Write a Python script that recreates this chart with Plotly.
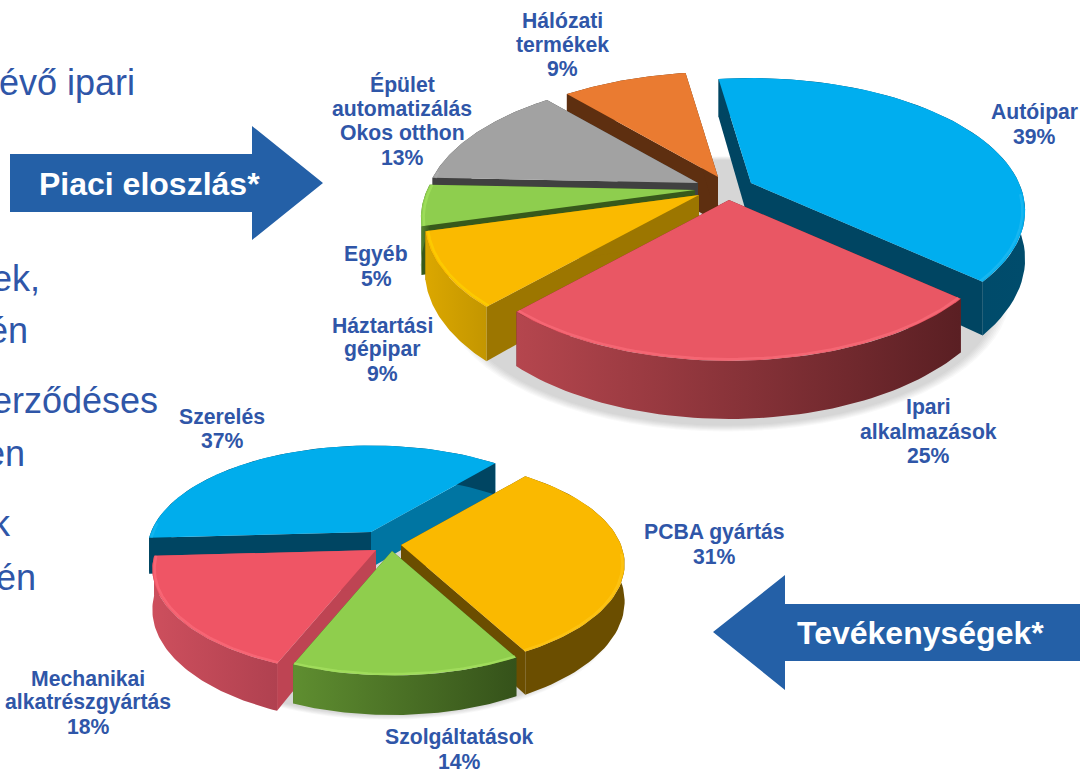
import math
import plotly.graph_objects as go

# ---- data ----
market_names = ["Autóipar", "Ipari alkalmazások", "Háztartási gépipar", "Egyéb",
                "Épület automatizálás Okos otthon", "Hálózati termékek"]
market_values = [39, 25, 9, 5, 13, 9]
activity_names = ["PCBA gyártás", "Szolgáltatások", "Mechanikai alkatrészgyártás", "Szerelés"]
activity_values = [31, 14, 18, 37]

# ---- appearance ----
BLUE_TXT = "#2F56A8"
ARROW = "#2460A7"
W, H = 1080, 770
top_geom = dict(R=268, Rv=127, k=0.21, depth=46, start=-8.4)
low_geom = dict(R=220, Rv=102, k=0.18, depth=31, start=40.0)
top_apex = [(751, 183), (729, 200), (699, 195), (695, 190), (698, 183), (718, 177)]
low_apex = [(401, 545), (392, 551), (376, 550), (371, 532)]
low_depth_scale = [1.17, 1.05, 1.27, 1.15]
top_order = [5, 4, 3, 0, 2, 1]
low_order = [3, 0, 2, 1]
top_face = ["#00AEEF", "#E95764", "#FABA00", "#8ECE4E", "#A2A2A2", "#EA7B31"]
top_cut = ["#004562", "#6A2328", "#9C7600", "#37591B", "#404040", "#5E2F10"]
top_side = [("#004562", "#004C6C"), ("#B5464E", "#5A1F23"), ("#DBA700", "#C39600"),
            ("#5A8A30", "#37591B"), ("#404040", "#404040"), ("#5E2F10", "#5E2F10")]
top_rim = ["#2BBDF2", "#FF7380", "#FFD800", "#A8E862", "#B0B0B0", "#F08A45"]
low_face = ["#FAB900", "#8FCE4D", "#EF5565", "#00ADEC"]
low_cut_a = ["#6B4E00", "#35521A", "#BE4453", "#004562"]
low_cut_b = ["#6B4E00", "#35521A", "#BE4453", "#0075A2"]
low_side = [("#6B4E00", "#6B4E00"), ("#5F8E30", "#35521A"), ("#CD4F5D", "#B04150"),
            ("#004562", "#004562")]
low_rim = ["#FFCB20", "#AEE868", "#FF7382", "#20BDF2"]

labels = [
    (["Hálózati", "termékek", "9%"], 562, 20),
    (["Épület", "automatizálás", "Okos otthon", "13%"], 402, 84),
    (["Autóipar", "39%"], 1034, 112),
    (["Egyéb", "5%"], 376, 254),
    (["Háztartási", "gépipar", "9%"], 382, 325),
    (["Ipari", "alkalmazások", "25%"], 928, 407),
    (["Szerelés", "37%"], 222, 416),
    (["PCBA gyártás", "31%"], 714, 532),
    (["Mechanikai", "alkatrészgyártás", "18%"], 88, 678),
    (["Szolgáltatások", "14%"], 459, 737),
]
side_text = [("évő ipari", -3, 82), ("ek,", -10, 278), ("én", -14, 330),
             ("erződéses", -10, 400), ("en", -17, 453), ("k", -10, 523), ("én", -6, 577)]


def point(g, ax, ay, deg, z=0.0, scale=1.0):
    t = math.radians(deg)
    X, Y = math.sin(t), math.cos(t)
    w = 1 + g["k"] * Y
    return ax + scale * g["R"] * X / w, ay - scale * g["Rv"] * Y / w + z * g["depth"] / w


def arc(g, ax, ay, a0, a1, z=0.0, scale=1.0, n=60):
    pts = [point(g, ax, ay, a0 + (a1 - a0) * i / n, z, scale) for i in range(n + 1)]
    return [p[0] for p in pts], [p[1] for p in pts]


fig = go.Figure()


def poly(xs, ys, color=None, gradient=None):
    kw = dict(fillcolor=color) if gradient is None else dict(
        fillgradient=dict(type="horizontal", colorscale=[[0, gradient[0]], [1, gradient[1]]]))
    fig.add_trace(go.Scatter(x=xs, y=ys, mode="lines", fill="toself", line=dict(width=0),
                             hoverinfo="skip", showlegend=False, **kw))


def shadow(g, ax, ay, dz):
    for i in range(7):
        xs, ys = arc(g, ax, ay + dz, 0, 360, 0, 1.0 + 0.006 * i, 90)
        poly(xs, ys, "rgba(60,60,60,0.03)")


def wedge(g, ax, ay, a0, a1, face, cut0, cut1, side, rim, dscale=1.0):
    z = dscale
    for ang, col in ((a0, cut0), (a1, cut1)):
        p = point(g, ax, ay, ang)
        q = point(g, ax, ay, ang, z)
        c1y = ay + z * g["depth"]
        poly([ax, p[0], q[0], ax, ax], [ay, p[1], q[1], c1y, ay], col)
    xt, yt = arc(g, ax, ay, a0, a1)
    xb, yb = arc(g, ax, ay, a0, a1, z)
    poly(xt + xb[::-1] + [xt[0]], yt + yb[::-1] + [yt[0]], gradient=side)
    poly([ax] + xt + [ax], [ay] + yt + [ay], face)
    lo = max(a0, 95)
    hi = min(a1, 275)
    if hi > lo:
        xr, yr = arc(g, ax, ay, lo, hi, 0, 0.99)
        fig.add_trace(go.Scatter(x=xr, y=yr, mode="lines", opacity=0.55,
                                 line=dict(color=rim, width=2.5),
                                 hoverinfo="skip", showlegend=False))


def draw_pie(g, values, apex, order, faces, cuts0, cuts1, sides, rims, dscales=None):
    bounds, cur = [], g["start"]
    for v in values:
        span = 360.0 * v / sum(values)
        bounds.append((cur, cur + span))
        cur += span
    for i in order:
        a0, a1 = bounds[i]
        wedge(g, apex[i][0], apex[i][1], a0, a1, faces[i], cuts0[i], cuts1[i], sides[i], rims[i],
              dscales[i] if dscales else 1.0)


shadow(top_geom, 726, 203, 62)
shadow(low_geom, 388, 545, 46)

draw_pie(top_geom, market_values, top_apex, top_order, top_face, top_cut, top_cut, top_side, top_rim)
draw_pie(low_geom, activity_values, low_apex, low_order, low_face,
         low_cut_a, low_cut_b, low_side, low_rim, low_depth_scale)

annotations = []
for lines, cx, y0 in labels:
    for i, line in enumerate(lines):
        annotations.append(dict(x=cx, y=y0 + i * 24.4, text="<b>" + line + "</b>", showarrow=False,
                                xanchor="center", yanchor="middle",
                                font=dict(family="Liberation Sans", size=21.2, color=BLUE_TXT)))
for txt, x, y in side_text:
    annotations.append(dict(x=x / W, xref="paper", y=y, text=txt, showarrow=False, xanchor="left",
                            yanchor="middle",
                            font=dict(family="Liberation Sans", size=36, color="#2F56A8")))
annotations.append(dict(x=149, y=184, text="<b>Piaci eloszlás*</b>", showarrow=False,
                        font=dict(family="Liberation Sans", size=32, color="white")))
annotations.append(dict(x=920, y=633, text="<b>Tevékenységek*</b>", showarrow=False,
                        font=dict(family="Liberation Sans", size=32, color="white")))

shapes = [
    dict(type="path", path="M10,154 L252,154 L252,126 L323,183 L252,240 L252,212 L10,212 Z",
         fillcolor=ARROW, line=dict(width=0), layer="below"),
    dict(type="path", path="M1082,604 L785,604 L785,575 L713,632 L785,690 L785,661 L1082,661 Z",
         fillcolor=ARROW, line=dict(width=0), layer="below"),
]

fig.update_layout(
    width=W, height=H, margin=dict(l=0, r=0, t=0, b=0), paper_bgcolor="white", plot_bgcolor="white",
    xaxis=dict(range=[0, W], visible=False, fixedrange=True),
    yaxis=dict(range=[H, 0], visible=False, fixedrange=True),
    annotations=annotations, shapes=shapes, showlegend=False,
)
fig.write_html("out.html", config={"displayModeBar": False},
               post_script="document.body.style.margin='0';document.body.style.overflow='hidden';")
